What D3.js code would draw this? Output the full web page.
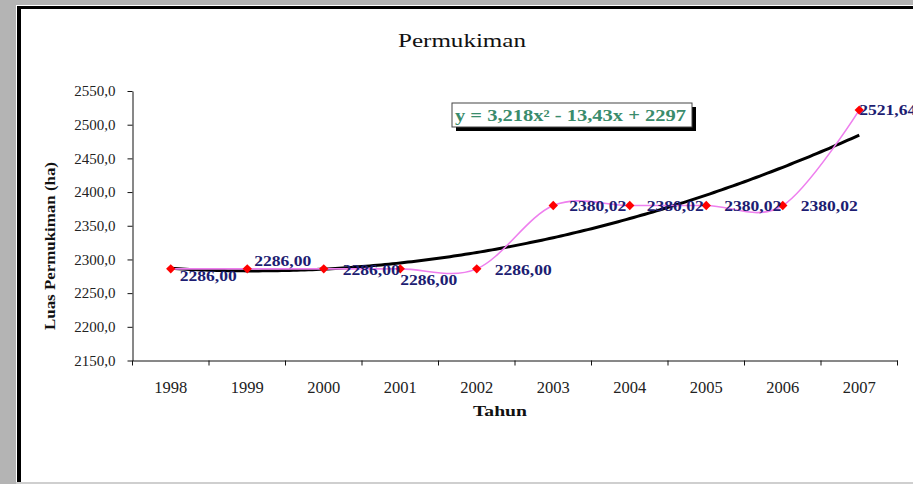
<!DOCTYPE html>
<html>
<head>
<meta charset="utf-8">
<script src="https://cdn.jsdelivr.net/npm/d3@7"></script>
<style>
  html, body { margin: 0; padding: 0; background: #b4b4b4; }
  svg { display: block; }
</style>
</head>
<body>
<svg id="chart" width="913" height="484"></svg>
<script>
// Land area for settlements (ha) per year
const years = ['1998', '1999', '2000', '2001', '2002', '2003', '2004', '2005', '2006', '2007'];
const luas = [2286.00, 2286.00, 2286.00, 2286.00, 2286.00, 2380.02, 2380.02, 2380.02, 2380.02, 2521.64];
const luasLabels = ['2286,00', '2286,00', '2286,00', '2286,00', '2286,00', '2380,02', '2380,02', '2380,02', '2380,02', '2521,64'];
const yTicks = [2150, 2200, 2250, 2300, 2350, 2400, 2450, 2500, 2550];
// Polynomial trend (order 2): y = a x^2 + b x + c, with x = 1..10
const trendCoef = [3.218, -13.43, 2297];
const trendText = 'y = 3,218x\u00B2 - 13,43x + 2297';

// Per-point label placement relative to its marker
const labelDx = [9, 7, 19, 0, 18, 16, 17, 18, 18, 0];
const labelDy = [7, -8, 1, 11, 1, 0, 0, 0, 0, 0];

const svg = d3.select('#chart');
const W = 913, H = 484;

// Page frame
svg.append('rect').attr('x', 0).attr('y', 0).attr('width', W).attr('height', H).attr('fill', '#b4b4b4');
svg.append('rect').attr('x', 16).attr('y', 5).attr('width', W - 16).attr('height', 477).attr('fill', '#ffffff');
svg.append('rect').attr('x', 17).attr('y', 6).attr('width', W - 17).attr('height', 3).attr('fill', '#000');
svg.append('rect').attr('x', 17).attr('y', 6).attr('width', 4).attr('height', 476).attr('fill', '#000');
svg.append('rect').attr('x', 16).attr('y', 482).attr('width', W - 16).attr('height', 2).attr('fill', '#cfcfcf');

const x = d3.scaleBand().domain(years).range([132.5, 897.5]).paddingInner(0).paddingOuter(0);
const y = d3.scaleLinear().domain([2150, 2550]).range([360.5, 91]);
const cx = d => x(d) + x.bandwidth() / 2;

const serif = '"Liberation Serif", "Times New Roman", serif';

// Title
svg.append('text')
  .attr('x', 462).attr('y', 47)
  .attr('text-anchor', 'middle')
  .attr('font-family', serif).attr('font-size', 19)
  .attr('textLength', 128).attr('lengthAdjust', 'spacingAndGlyphs')
  .attr('fill', '#111')
  .text('Permukiman');

// Y axis
const yAxis = svg.append('g')
  .attr('transform', 'translate(132.5,0)')
  .call(d3.axisLeft(y).tickValues(yTicks).tickSize(5).tickSizeOuter(0).tickPadding(12)
    .tickFormat(d => d.toFixed(1).replace('.', ',')));
yAxis.selectAll('text').attr('font-family', serif).attr('font-size', 15).attr('fill', '#222');
yAxis.selectAll('line, path').attr('stroke', '#111');

// X axis: labels centered in each category, ticks on category boundaries
const xAxis = svg.append('g')
  .attr('transform', 'translate(0,360.5)')
  .call(d3.axisBottom(x).tickSize(0).tickSizeOuter(0).tickPadding(21));
xAxis.selectAll('text').attr('font-family', serif).attr('font-size', 16.5).attr('fill', '#222');
xAxis.select('.domain').attr('stroke', '#111');
const boundaries = years.map(d => x(d)).concat([x(years[years.length - 1]) + x.bandwidth()]);
xAxis.selectAll('.bound').data(boundaries).join('line')
  .attr('class', 'bound')
  .attr('x1', d => d).attr('x2', d => d)
  .attr('y1', 0).attr('y2', 5)
  .attr('stroke', '#111');

// Axis titles
svg.append('text')
  .attr('transform', 'translate(55,246) rotate(-90)')
  .attr('text-anchor', 'middle')
  .attr('font-family', serif).attr('font-size', 15).attr('font-weight', 'bold')
  .attr('textLength', 168).attr('lengthAdjust', 'spacingAndGlyphs')
  .attr('fill', '#111')
  .text('Luas Permukiman (ha)');
svg.append('text')
  .attr('x', 500).attr('y', 416)
  .attr('text-anchor', 'middle')
  .attr('font-family', serif).attr('font-size', 15).attr('font-weight', 'bold')
  .attr('textLength', 54).attr('lengthAdjust', 'spacingAndGlyphs')
  .attr('fill', '#111')
  .text('Tahun');

// Trendline from the fitted coefficients
const xi = d3.scaleLinear().domain([1, years.length]).range([cx(years[0]), cx(years[years.length - 1])]);
const trendPts = d3.range(1, years.length + 0.001, 0.05).map(t => [t, trendCoef[0] * t * t + trendCoef[1] * t + trendCoef[2]]);
svg.append('path')
  .datum(trendPts)
  .attr('fill', 'none')
  .attr('stroke', '#000')
  .attr('stroke-width', 3)
  .attr('d', d3.line().x(d => xi(d[0])).y(d => y(d[1])));

// Smoothed series line
svg.append('path')
  .datum(luas)
  .attr('fill', 'none')
  .attr('stroke', '#ee7fee')
  .attr('stroke-width', 1.6)
  .attr('d', d3.line().x((d, i) => cx(years[i])).y(d => y(d)).curve(d3.curveCatmullRom.alpha(0)));

// Markers
svg.selectAll('.mk').data(luas).join('path')
  .attr('class', 'mk')
  .attr('transform', (d, i) => `translate(${cx(years[i])},${y(d)})`)
  .attr('d', d3.symbol(d3.symbolDiamond2, 56))
  .attr('fill', '#ff0000');

// Data labels
svg.selectAll('.lbl').data(luas).join('text')
  .attr('class', 'lbl')
  .attr('x', (d, i) => cx(years[i]) + labelDx[i])
  .attr('y', (d, i) => y(d) + labelDy[i])
  .attr('dy', '0.35em')
  .attr('font-family', serif).attr('font-size', 15).attr('font-weight', 'bold')
  .attr('textLength', 57).attr('lengthAdjust', 'spacingAndGlyphs')
  .attr('fill', '#1d1d72')
  .text((d, i) => luasLabels[i]);

// Trendline equation box with drop shadow
const eq = svg.append('g').attr('transform', 'translate(452,103)');
eq.append('rect').attr('x', 4).attr('y', 4).attr('width', 240).attr('height', 24).attr('fill', '#000');
eq.append('rect').attr('x', 0).attr('y', 0).attr('width', 240).attr('height', 24)
  .attr('fill', '#fff').attr('stroke', '#444').attr('stroke-width', 1);
eq.append('text')
  .attr('x', 3).attr('y', 12).attr('dy', '0.35em')
  .attr('font-family', serif).attr('font-size', 16).attr('font-weight', 'bold')
  .attr('textLength', 231).attr('lengthAdjust', 'spacingAndGlyphs')
  .attr('fill', '#3a8c6c')
  .text(trendText);
</script>
</body>
</html>
